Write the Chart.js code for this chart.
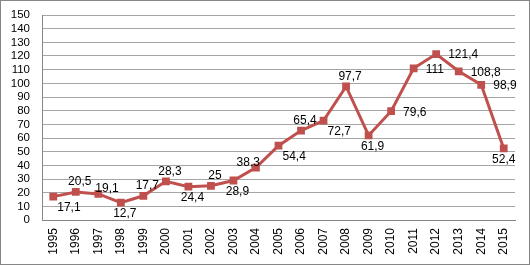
<!DOCTYPE html>
<html><head><meta charset="utf-8">
<script src="https://cdn.jsdelivr.net/npm/chart.js@4/dist/chart.umd.min.js"></script>
<style>
html,body{margin:0;padding:0;background:#fff;}
#wrap{width:530px;height:265px;box-sizing:border-box;border:1px solid #868686;position:relative;}
canvas{display:block;}
</style></head><body>
<div id="wrap"><canvas id="c" width="528" height="263"></canvas></div>
<script>
const years = ['1995','1996','1997','1998','1999','2000','2001','2002','2003','2004','2005','2006','2007','2008','2009','2010','2011','2012','2013','2014','2015'];
const values = [17.1,20.5,19.1,12.7,17.7,28.3,24.4,25,28.9,38.3,54.4,65.4,72.7,97.7,61.9,79.6,111,121.4,108.8,98.9,52.4];
const yStep = 10;
const yMax = 150;
const labelPlacement = ['br','a','ar','b','a','a','b','a','b','al','br','a','br','a','b','r','r','r','r','r','bc'];

const labelPlugin = {
  id:'vlabels',
  afterDatasetsDraw(chart){
    const ctx = chart.ctx;
    const meta = chart.getDatasetMeta(0);
    ctx.save();
    ctx.font = '12px "Liberation Sans", Arial, sans-serif';
    ctx.fillStyle = '#000';
    meta.data.forEach((pt,i)=>{
      const txt = String(values[i]).replace('.',',');
      const p = labelPlacement[i];
      let x = pt.x, y = pt.y;
      if(p==='a'){ctx.textAlign='center';ctx.textBaseline='bottom';x+=4;y-=4;}
      else if(p==='al'){ctx.textAlign='right';ctx.textBaseline='bottom';x+=4;y+=1;}
      else if(p==='ar'){ctx.textAlign='left';ctx.textBaseline='bottom';x-=3;y+=1;}
      else if(p==='b'){ctx.textAlign='center';ctx.textBaseline='top';x+=4;y+=5;}
      else if(p==='bc'){ctx.textAlign='center';ctx.textBaseline='top';y+=5;}
      else if(p==='br'){ctx.textAlign='left';ctx.textBaseline='top';x+=4;y+=5;}
      else {ctx.textAlign='left';ctx.textBaseline='middle';x+=12;y+=1;}
      ctx.fillText(txt,x,y);
    });
    ctx.restore();
  }
};

new Chart(document.getElementById('c'),{
  type:'line',
  data:{labels:years,datasets:[{
    data:values,
    borderColor:'#C0504D',
    backgroundColor:'#C0504D',
    borderWidth:3,
    pointStyle:'rect',
    pointRadius:5.5,
    pointBorderWidth:0,
    tension:0
  }]},
  options:{
    responsive:false,
    animation:false,
    layout:{padding:{top:14,right:14,left:0,bottom:0}},
    plugins:{legend:{display:false},tooltip:{enabled:false}},
    scales:{
      x:{
        offset:true,
        grid:{display:false,drawTicks:false},
        border:{display:true,color:'#868686'},
        ticks:{minRotation:90,maxRotation:90,autoSkip:false,padding:8,color:'#000',font:{family:'"Liberation Sans", Arial, sans-serif',size:12}},
        afterFit(s){s.height=44;s.paddingLeft=0;s.paddingRight=0;}
      },
      y:{
        min:0,max:yMax,
        grid:{color:'#a6a6a6',lineWidth:1,drawTicks:false},
        border:{display:true,color:'#868686'},
        ticks:{stepSize:yStep,autoSkip:false,padding:12,color:'#000',font:{family:'"Liberation Sans", Arial, sans-serif',size:11.5}},
        afterFit(s){s.width=41;s.paddingTop=0;s.paddingBottom=0;}
      }
    }
  },
  plugins:[labelPlugin]
});
</script>
</body></html>
